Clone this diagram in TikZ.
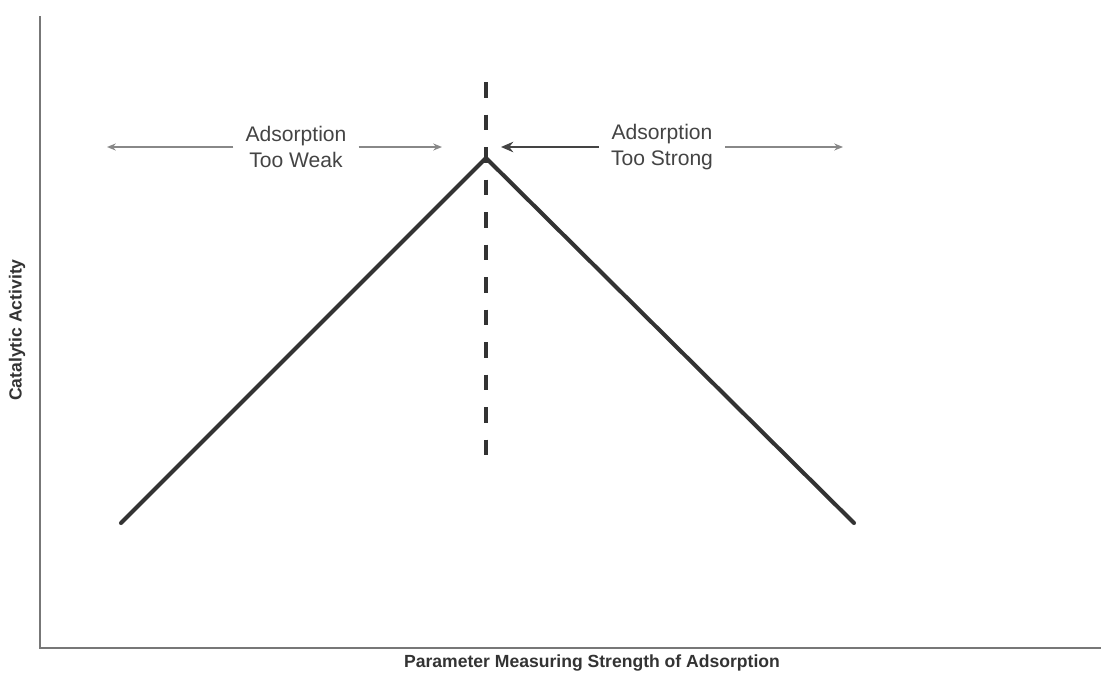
\documentclass[tikz,border=0pt]{standalone}
\usepackage{fontspec}
\setmainfont{Liberation Sans}
\usepackage{xcolor}
\usetikzlibrary{arrows.meta}

\definecolor{curvegray}{HTML}{333333}
\definecolor{axisgray}{HTML}{777777}
\definecolor{arrowgray}{HTML}{888888}
\definecolor{textgray}{HTML}{444444}

\begin{document}
\begin{tikzpicture}[
        x=0.02cm,
        y=-0.02cm,
        every node/.style={inner sep=0pt},
        curve/.style={
                line width=2.3pt,
                curvegray,
                line cap=round
                },
        optimum/.style={
                line width=2.3pt,
                curvegray,
                dash pattern=on 9pt off 9.5pt
                },
        region/.style={
                align=center,
                text=textgray,
                font=\fontsize{12}{14.5}\selectfont,
                outer xsep=7pt
                },
        thinarrow/.style={
                -{Stealth[length=5pt,width=4pt]},
                line width=0.8pt,
                arrowgray
                },
        boldarrow/.style={
                -{Stealth[length=7pt,width=6pt]},
                line width=1pt,
                textgray
                },
        axislabel/.style={
                font=\fontsize{10}{12}\selectfont\bfseries,
                text=curvegray
                }
        ]

\useasboundingbox (0,0) rectangle (1101,676);

%axes
\coordinate (ytop) at (40,16);
\coordinate (origin) at (40,648);
\coordinate (xend) at (1101,648);
\draw[
        axisgray,
        line width=0.8pt
        ]
        (ytop) -- (origin) -- (xend);

%axes labels
\node[axislabel] (xlabel) at (592,663) {Parameter Measuring Strength of Adsorption};
\node[axislabel, rotate=90] (ylabel) at (17,330) {Catalytic Activity};

%optimum line
\coordinate (opttop) at (486,82);
\coordinate (optbottom) at (486,458);
\draw[optimum] (opttop) -- (optbottom);

%volcano
\coordinate (weakend) at (121,523);
\coordinate (peak) at (486,158);
\coordinate (strongend) at (854,523);
\draw[curve] (weakend) -- (peak) -- (strongend);

%too weak
\node[region] (weak) at (296,147) {Adsorption\\Too Weak};
\coordinate (weakleft) at (107,147);
\coordinate (weakright) at (442,147);
\draw[thinarrow] (weak) -- (weakleft);
\draw[thinarrow] (weak) -- (weakright);

%too strong
\node[region] (strong) at (662,147) {Adsorption\\Too Strong};
\coordinate (strongleft) at (501,147);
\coordinate (strongright) at (843,147);
\draw[boldarrow] (strong) -- (strongleft);
\draw[thinarrow] (strong) -- (strongright);

\end{tikzpicture}
\end{document}
